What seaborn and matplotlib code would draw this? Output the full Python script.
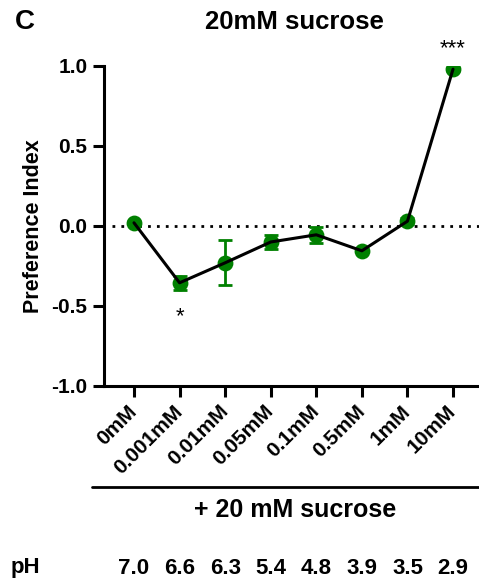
import matplotlib
matplotlib.use("Agg")
import matplotlib.pyplot as plt
import matplotlib.transforms as mtransforms
from matplotlib.lines import Line2D
import seaborn as sns
import pandas as pd

# ---- data ----
concentrations = ["0mM", "0.001mM", "0.01mM", "0.05mM", "0.1mM", "0.5mM", "1mM", "10mM"]
preference_index = [0.02, -0.355, -0.23, -0.10, -0.055, -0.155, 0.03, 0.98]
sem = [0.01, 0.045, 0.14, 0.043, 0.05, 0.01, 0.02, 0.01]
ph_values = ["7.0", "6.6", "6.3", "5.4", "4.8", "3.9", "3.5", "2.9"]
significance = ["", "*", "", "", "", "", "", "***"]
y_ticks = [-1.0, -0.5, 0.0, 0.5, 1.0]

df = pd.DataFrame({"conc": concentrations, "pi": preference_index, "sem": sem})
df["pos"] = range(len(df))

sns.set_style("ticks")
plt.rcParams["font.family"] = ["Liberation Sans", "DejaVu Sans"]
plt.rcParams["font.weight"] = "bold"
for k in ["text.color", "axes.labelcolor", "xtick.color", "ytick.color", "axes.edgecolor"]:
    plt.rcParams[k] = "black"

W, H = 479, 588
fig = plt.figure(figsize=(W / 100, H / 100), dpi=100)
ax = fig.add_axes([104 / W, 1 - 386 / H, (W - 104) / W, (386 - 66) / H])

green = "#008000"
ax.errorbar(df["pos"], df["pi"], yerr=df["sem"], fmt="none", ecolor=green,
            elinewidth=2, capsize=5, capthick=2, zorder=2)
sns.scatterplot(data=df, x="pos", y="pi", ax=ax, color=green, marker="o",
                s=130, edgecolor=green, linewidth=0, zorder=3, legend=False)
sns.lineplot(data=df, x="pos", y="pi", ax=ax, color="black", linewidth=2.2,
             zorder=4, legend=False)

ax.hlines(0, -0.48, 7.8, colors="black", linestyles=(0, (1, 2.2)), linewidth=2,
          zorder=1, clip_on=False)

for i, (v, s) in enumerate(zip(preference_index, significance)):
    if not s:
        continue
    if v > 0:
        ax.text(i, v + 0.13, s, ha="center", va="center", fontsize=16,
                fontweight="normal", clip_on=False)
    else:
        ax.text(i, v - 0.21, s, ha="center", va="center", fontsize=16,
                fontweight="normal", clip_on=False)

ax.set_xlim(-0.658, 7.57)
ax.set_ylim(-1.0, 1.0)
ax.set_yticks(y_ticks)
ax.set_yticklabels([f"{t:.1f}" for t in y_ticks], fontsize=15, fontweight="bold")
ax.set_xticks(df["pos"])
ax.set_xticklabels(concentrations, rotation=45, ha="right", va="center",
                   rotation_mode="anchor", fontsize=15, fontweight="bold")
ax.tick_params(axis="both", length=8, width=2.2, color="black", pad=4)
ax.tick_params(axis="x", pad=8)
ax.set_xlabel("")
ax.set_ylabel("Preference Index", fontsize=15.5, fontweight="bold", labelpad=5)
sns.despine(ax=ax)
for sp in ["left", "bottom"]:
    ax.spines[sp].set_linewidth(2.2)
    ax.spines[sp].set_color("black")

# title and panel letter
fig.text(294 / W, 1 - 22 / H, "20mM sucrose", ha="center", va="center",
         fontsize=18.5, fontweight="bold")
fig.text(25 / W, 1 - 22 / H, "C", ha="center", va="center",
         fontsize=20, fontweight="bold")

# group bracket
fig.add_artist(Line2D([92 / W, 1.0], [1 - 487 / H, 1 - 487 / H], color="black",
                      linewidth=2))
fig.text(295 / W, 1 - 510 / H, "+ 20 mM sucrose", ha="center", va="center",
         fontsize=18, fontweight="bold")

# pH row
trans = mtransforms.blended_transform_factory(ax.transData, fig.transFigure)
fig.text(25 / W, 1 - 568 / H, "pH", ha="center", va="center",
         fontsize=16, fontweight="bold")
for i, ph in enumerate(ph_values):
    ax.text(i, 1 - 568 / H, ph, transform=trans, ha="center", va="center",
            fontsize=16, fontweight="bold", clip_on=False)

fig.savefig("out.png", dpi=100)
